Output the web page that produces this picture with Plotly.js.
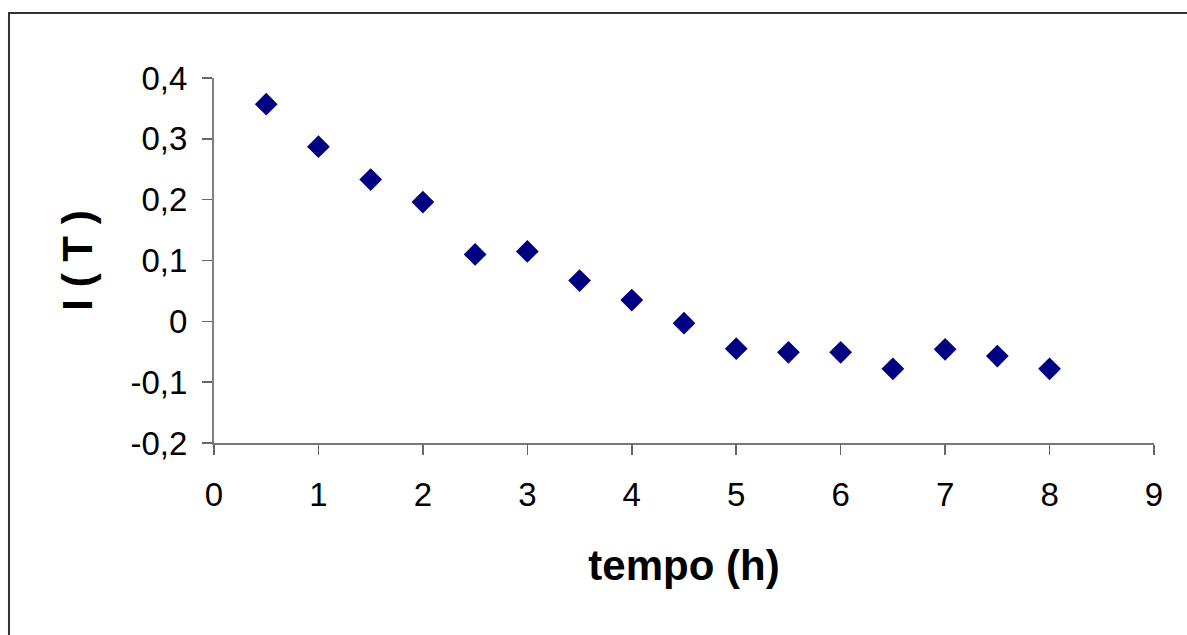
<!DOCTYPE html>
<html>
<head>
<meta charset="utf-8">
<script src="https://cdn.plot.ly/plotly-3.0.1.min.js"></script>
<style>
  html, body { margin: 0; padding: 0; background: #fff; }
  #chart { width: 1187px; height: 635px; }
</style>
</head>
<body>
<div id="chart"></div>
<script>
const tempo = [0.5, 1, 1.5, 2, 2.5, 3, 3.5, 4, 4.5, 5, 5.5, 6, 6.5, 7, 7.5, 8];
const iT = [0.357, 0.287, 0.233, 0.196, 0.110, 0.115, 0.067, 0.035, -0.003, -0.045, -0.051, -0.051, -0.078, -0.046, -0.057, -0.078];
const xTickVals = [0, 1, 2, 3, 4, 5, 6, 7, 8, 9];
const xTickText = ['0', '1', '2', '3', '4', '5', '6', '7', '8', '9'];
const yTickVals = [-0.2, -0.1, 0, 0.1, 0.2, 0.3, 0.4];
const yTickText = ['-0,2', '-0,1', '0', '0,1', '0,2', '0,3', '0,4'];

const FONT = 'Liberation Sans, Arial, sans-serif';

const trace = {
  x: tempo,
  y: iT,
  type: 'scatter',
  mode: 'markers',
  marker: { symbol: 'diamond', size: 17.5, color: '#000080', line: { width: 0 } },
  showlegend: false,
  hoverinfo: 'x+y'
};

const layout = {
  width: 1187,
  height: 635,
  margin: { l: 214, r: 33, t: 78, b: 192, pad: 0 },
  paper_bgcolor: '#ffffff',
  plot_bgcolor: '#ffffff',
  font: { family: FONT, color: '#000000', size: 33 },
  showlegend: false,
  xaxis: {
    range: [0, 9],
    tickmode: 'array',
    tickvals: xTickVals,
    ticktext: xTickText,
    ticks: 'outside',
    ticklen: 10,
    tickwidth: 1.5,
    tickcolor: '#666666',
    showline: true,
    linecolor: '#777777',
    linewidth: 1.5,
    showgrid: false,
    zeroline: false,
    tickfont: { family: FONT, size: 33, color: '#000' },
    ticklabelstandoff: 12,
    title: { text: 'tempo (h)', font: { family: FONT, size: 42, color: '#000', weight: 'bold' }, standoff: 38 }
  },
  yaxis: {
    range: [-0.2, 0.4],
    tickmode: 'array',
    tickvals: yTickVals,
    ticktext: yTickText,
    ticks: 'outside',
    ticklen: 10,
    tickwidth: 1.5,
    tickcolor: '#666666',
    showline: true,
    linecolor: '#808080',
    linewidth: 2,
    showgrid: false,
    zeroline: false,
    tickfont: { family: FONT, size: 33, color: '#000' },
    ticklabelstandoff: 8,
    title: { text: 'I ( T )', font: { family: FONT, size: 42, color: '#000', weight: 'bold' }, standoff: 25 }
  },
  shapes: [{
    type: 'rect', xref: 'paper', yref: 'paper',
    x0: -0.2181, x1: 1.3, y0: -0.9, y1: 1.178,
    line: { color: '#333333', width: 2 },
    fillcolor: 'rgba(0,0,0,0)',
    layer: 'above'
  }]
};

Plotly.newPlot('chart', [trace], layout, { displayModeBar: false, staticPlot: true });
</script>
</body>
</html>
